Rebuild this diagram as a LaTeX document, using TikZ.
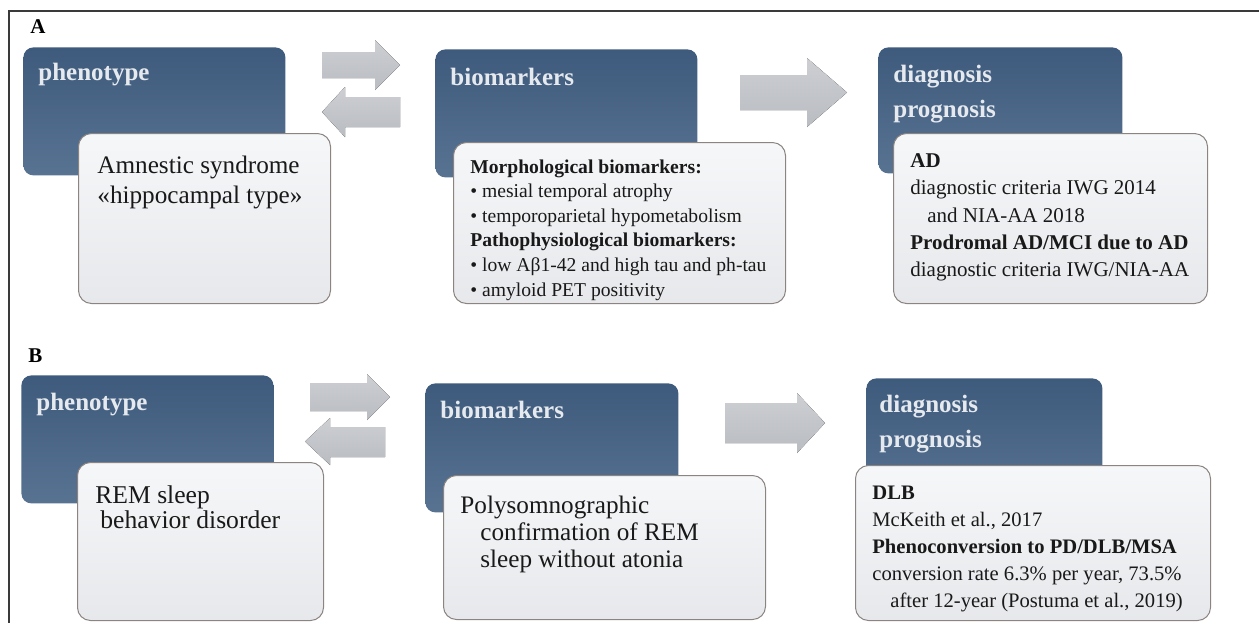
\documentclass[tikz,border=0pt]{standalone}
\usepackage{fontspec}
\setmainfont{Liberation Serif}
\usetikzlibrary{positioning, calc}

\definecolor{hdtop}{HTML}{3E5A7C}
\definecolor{hdbot}{HTML}{587392}
\definecolor{hdfont}{HTML}{E6EAEF}
\definecolor{txttop}{HTML}{F6F7F9}
\definecolor{txtbot}{HTML}{E7E8EB}
\definecolor{txtline}{HTML}{8C8480}
\definecolor{arrtop}{HTML}{CDCFD3}
\definecolor{arrbot}{HTML}{B9BCC1}
\definecolor{frameline}{HTML}{3A3A3A}

\begin{document}
\begin{tikzpicture}[
        x=0.5pt, y=-0.5pt,
        hdbox/.style={rectangle, rounded corners=5pt, top color=hdtop, bottom color=hdbot, draw=none, anchor=north west, inner sep=0pt},
        txtbox/.style={rectangle, rounded corners=6.5pt, top color=txttop, bottom color=txtbot, draw=txtline, line width=0.5pt, anchor=north west, inner sep=0pt},
        hdtext/.style={anchor=north west, inner sep=0pt, align=left, text=hdfont, font=\bfseries\fontsize{12.5}{17.5}\selectfont},
        bodytext/.style={anchor=north west, inner sep=0pt, align=left, text=black!90},
        panel/.style={anchor=base west, inner sep=0pt, font=\bfseries\fontsize{10.5}{12}\selectfont},
        barrow/.style={top color=arrtop, bottom color=arrbot, draw=none}
    ]
    \useasboundingbox (0,0) rectangle (1259,623);

    % Frame
    \draw[frameline, line width=0.75pt] (1259,11) -- (9,11) -- (9,623);

    % Panel A
    \node[panel] (labA) at (30,33) {A};
    \node[hdbox, minimum width=131pt, minimum height=64pt] (phenA) at (23,47) {};
    \node[txtbox, minimum width=126pt, minimum height=85pt] (phenAtxt) at (78,133) {};
    \node[hdbox, minimum width=131pt, minimum height=64pt] (bioA) at (435,49) {};
    \node[txtbox, minimum width=166pt, minimum height=80.5pt] (bioAtxt) at (453,142) {};
    \node[hdbox, minimum width=122pt, minimum height=63pt] (diagA) at (878,47) {};
    \node[txtbox, minimum width=157pt, minimum height=85pt] (diagAtxt) at (893,133) {};

    \node[hdtext, below right=8pt and 7.5pt of phenA.north west] (phenAhd) {phenotype};
    \node[hdtext, below right=9.5pt and 7.5pt of bioA.north west] (bioAhd) {biomarkers};
    \node[hdtext, below right=9pt and 7.5pt of diagA.north west] (diagAhd) {diagnosis\\prognosis};

    \node[bodytext, font=\fontsize{12.6}{15}\selectfont, below right=11.5pt and 9.5pt of phenAtxt.north west] (phenAbody)
        {Amnestic syndrome\\«hippocampal type»};
    \node[bodytext, font=\fontsize{9.8}{12.3}\selectfont, below right=8.5pt and 8.5pt of bioAtxt.north west] (bioAbody)
        {\textbf{Morphological biomarkers:}\\• mesial temporal atrophy\\• temporoparietal hypometabolism\\\textbf{Pathophysiological biomarkers:}\\• low Aβ1-42 and high tau and ph-tau\\• amyloid PET positivity};
    \node[bodytext, font=\fontsize{10.5}{13.7}\selectfont, below right=10pt and 8.5pt of diagAtxt.north west] (diagAbody)
        {\textbf{AD}\\diagnostic criteria IWG 2014\\\hspace*{8.5pt}and NIA-AA 2018\\\textbf{Prodromal AD/MCI due to AD}\\diagnostic criteria IWG/NIA-AA};

    % Arrows A
    \fill[barrow] (322,52) -- (375,52) -- (375,40) -- (400,65) -- (375,90) -- (375,78) -- (322,78) -- cycle;
    \fill[barrow] (400,97) -- (345,97) -- (345,87) -- (322,112) -- (345,137) -- (345,127) -- (400,127) -- cycle;
    \fill[barrow] (740,75) -- (807,75) -- (807,58) -- (847,92.5) -- (807,127) -- (807,110) -- (740,110) -- cycle;

    % Panel B
    \node[panel] (labB) at (28,362) {B};
    \node[hdbox, minimum width=126pt, minimum height=64pt] (phenB) at (21,375) {};
    \node[txtbox, minimum width=123pt, minimum height=79pt] (phenBtxt) at (77,462) {};
    \node[hdbox, minimum width=126.5pt, minimum height=64.5pt] (bioB) at (425,383) {};
    \node[txtbox, minimum width=161pt, minimum height=72pt] (bioBtxt) at (443,475) {};
    \node[hdbox, minimum width=118pt, minimum height=62.5pt] (diagB) at (866,378) {};
    \node[txtbox, minimum width=177.5pt, minimum height=77.5pt] (diagBtxt) at (855,465) {};

    \node[hdtext, below right=9pt and 7.5pt of phenB.north west] (phenBhd) {phenotype};
    \node[hdtext, below right=9pt and 7.5pt of bioB.north west] (bioBhd) {biomarkers};
    \node[hdtext, below right=8.5pt and 6.5pt of diagB.north west] (diagBhd) {diagnosis\\prognosis};

    \node[bodytext, font=\fontsize{12.8}{11.5}\selectfont, below right=11.5pt and 9pt of phenBtxt.north west] (phenBbody)
        {REM sleep\\\hspace*{2.5pt}behavior disorder};
    \node[bodytext, font=\fontsize{12.6}{13.5}\selectfont, below right=10.5pt and 8.5pt of bioBtxt.north west] (bioBbody)
        {Polysomnographic\\\hspace*{10pt}confirmation of REM\\\hspace*{10pt}sleep without atonia};
    \node[bodytext, font=\fontsize{10.3}{13.5}\selectfont, below right=10.5pt and 8.5pt of diagBtxt.north west] (diagBbody)
        {\textbf{DLB}\\McKeith et al., 2017\\\textbf{Phenoconversion to PD/DLB/MSA}\\conversion rate 6.3\% per year, 73.5\%\\\hspace*{9pt}after 12-year (Postuma et al., 2019)};

    % Arrows B
    \fill[barrow] (310,383) -- (367,383) -- (367,374) -- (390,397) -- (367,420) -- (367,411) -- (310,411) -- cycle;
    \fill[barrow] (385,427) -- (330,427) -- (330,418) -- (305,441.5) -- (330,465) -- (330,457) -- (385,457) -- cycle;
    \fill[barrow] (725,403) -- (797,403) -- (797,393) -- (825,423) -- (797,453) -- (797,443) -- (725,443) -- cycle;

\end{tikzpicture}
\end{document}
